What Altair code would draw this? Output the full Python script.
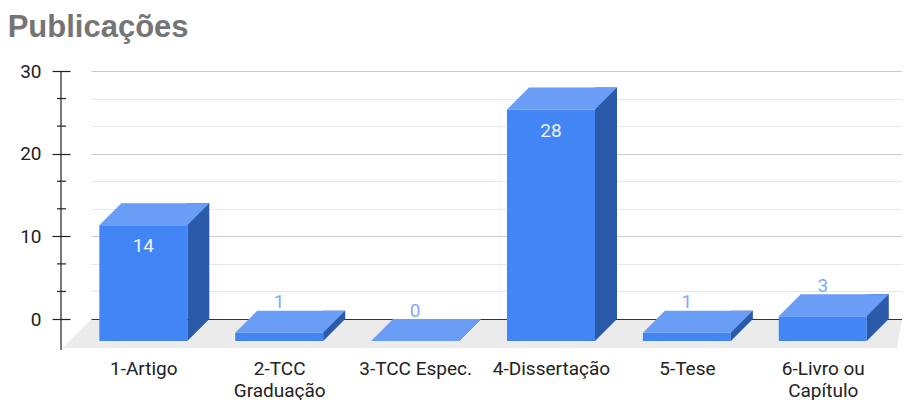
import altair as alt
import pandas as pd

# ---- data ----
categories = ["1-Artigo", "2-TCC Graduação", "3-TCC Espec.", "4-Dissertação", "5-Tese", "6-Livro ou Capítulo"]
values = [14, 1, 0, 28, 1, 3]
major_ticks = [0, 10, 20, 30]
minor_ticks = [10 / 3, 20 / 3, 40 / 3, 50 / 3, 70 / 3, 80 / 3]

df = pd.DataFrame({"categoria": categories, "valor": values})
minor_df = pd.DataFrame({"valor": minor_ticks})
zero_df = pd.DataFrame({"valor": [0]})
top_df = pd.DataFrame({"valor": [major_ticks[-1]]})

FRONT = "#4285f4"
TOP = "#699df6"
SIDE = "#2b5aa9"
FLOOR = "#ebebeb"
AXIS = "#222222"
FONT = "Roboto"

all_ticks = sorted(major_ticks + minor_ticks)

yscale = alt.Scale(domain=[0, 30], nice=False, zero=True)
yaxis = alt.Axis(
    values=all_ticks, title=None, offset=21, domain=False,
    tickSize=18, tickColor=AXIS, tickWidth=1.2,
    tickOpacity={"condition": {"test": "datum.value % 10 == 0", "value": 1}, "value": 0},
    labelExpr="datum.value % 10 == 0 ? datum.label : ''",
    labelPadding=11, labelFontSize=19, labelFont=FONT, labelColor=AXIS,
    labelOverlap=False, labelFlush=False,
    grid=True, gridWidth=1,
    gridColor={"condition": [
        {"test": "datum.value == 0", "value": "#333333"},
        {"test": "datum.value % 10 == 0", "value": "#cccccc"}],
        "value": "#e8e8e8"},
)
Y = alt.Y("valor:Q", scale=yscale, axis=yaxis, title=None)

wrap = ("length(datum.label) > 14 ? [slice(datum.label, 0, lastindexof(datum.label, ' ')), "
        "slice(datum.label, lastindexof(datum.label, ' ') + 1)] : datum.label")
X = alt.X(
    "categoria:N", sort=categories, title=None,
    scale=alt.Scale(type="point", padding=0.484, align=0.565),
    axis=alt.Axis(domain=False, ticks=False, grid=False, labelAngle=0,
                  labelOffset=-22, labelPadding=40, labelFontSize=19, labelFont=FONT,
                  labelColor=AXIS, labelLineHeight=22, labelExpr=wrap),
)

base = alt.Chart(df)

floor = alt.Chart(zero_df).mark_point(
    shape="M 0 1 L 811 1 L 806 29 L -28 29 Z", size=4, filled=True,
    fill=FLOOR, opacity=1, strokeWidth=0,
).encode(x=alt.value(0), y=Y)

side = base.mark_bar(width=22, xOffset=33, color=SIDE).encode(x=X, y=Y, y2=alt.datum(0))

bottom_tri = base.mark_point(
    shape="M 22 0 L 44 0 L 22 22 Z", size=4, filled=True, fill=SIDE, opacity=1, strokeWidth=0,
).encode(x=X, y=alt.Y("zero:Q", scale=yscale, axis=yaxis, title=None)).transform_calculate(zero="0")

front = base.mark_bar(width=88, xOffset=-22, yOffset=22, y2Offset=22, color=FRONT).encode(
    x=X, y=Y, y2=alt.datum(0))

top = base.mark_point(
    shape="M -44 0 L 44 0 L 22 22 L -66 22 Z", size=4, filled=True, fill=TOP, opacity=1, strokeWidth=0,
).encode(x=X, y=Y)

labels_in = base.transform_filter("datum.valor >= 5").mark_text(
    font=FONT, fontSize=19, dx=-22, dy=43, color="#eef3fe", baseline="middle", align="center",
).encode(x=X, y=Y, text="valor:Q")

labels_out = base.transform_filter("datum.valor < 5").mark_text(
    font=FONT, fontSize=19, dx=-22, dy=-8.5, color="#7eabf7", baseline="middle", align="center",
).encode(x=X, y=Y, text="valor:Q")

vline = alt.Chart(top_df).mark_rule(color=AXIS, strokeWidth=1.2).encode(
    x=alt.value(-30), y=Y, y2=alt.value(279))

minor = alt.Chart(minor_df).mark_rule(color=AXIS, strokeWidth=1.2).encode(
    y=Y, x=alt.value(-34), x2=alt.value(-25))

chart = alt.layer(floor, side, bottom_tri, front, top, labels_in, labels_out, vline, minor).properties(
    width=811, height=248,
    title=alt.TitleParams("Publicações", anchor="start", font="Liberation Sans", fontSize=31,
                          fontWeight="bold", color="#757575", dx=-12, offset=18),
    autosize=alt.AutoSizeParams(type="none"),
    padding={"left": 83, "top": 63, "right": 0, "bottom": 81},
    background="white",
).configure_view(stroke=None)

chart.save("out.html", embed_options={"renderer": "svg", "actions": False})
